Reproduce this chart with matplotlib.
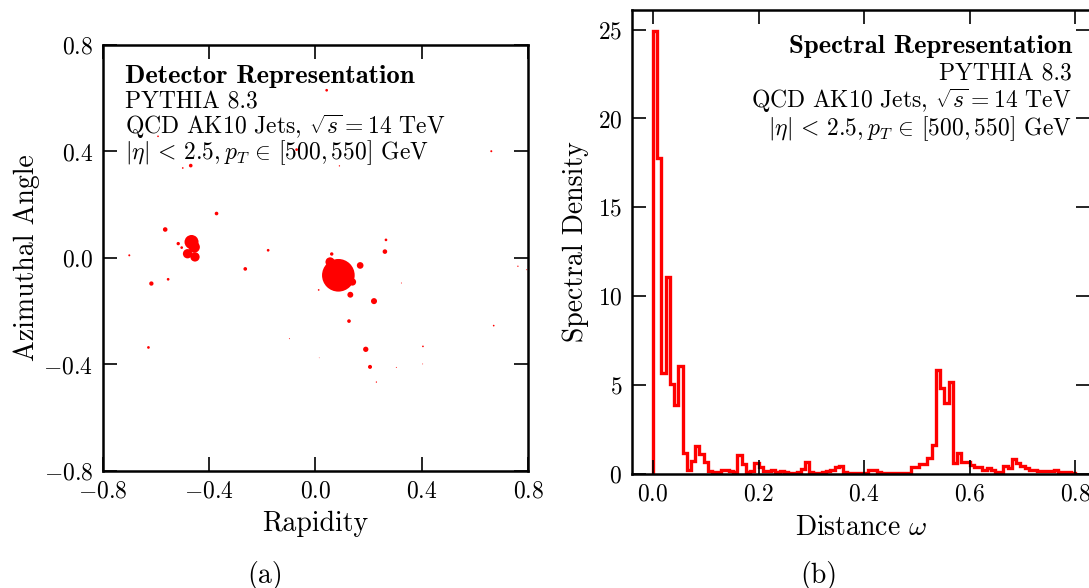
import numpy as np
import matplotlib
matplotlib.use("Agg")
import matplotlib.pyplot as plt

plt.rcParams['font.family'] = 'serif'
plt.rcParams['font.serif'] = ['cmr10']
plt.rcParams['mathtext.fontset'] = 'cm'
plt.rcParams['axes.formatter.use_mathtext'] = True
plt.rcParams['axes.unicode_minus'] = True

# ---- detector representation: constituents (rapidity, phi, pT in GeV)
rapidity = [0.086, 0.055, 0.139, 0.168, 0.131, 0.220, 0.061, 0.261, 0.265, 0.012,
            0.323, 0.126, 0.189, 0.205, 0.229, 0.304, 0.404, 0.403, -0.098, 0.014,
            0.670, 0.761, 0.794, 0.661, 0.042, 0.338, -0.071, 0.090, -0.469, -0.499,
            -0.592, -0.372, -0.565, -0.466, -0.456, -0.481, -0.453, -0.516, -0.503, -0.700,
            -0.617, -0.554, -0.628, -0.264, -0.178]
phi = [-0.065, -0.015, -0.090, -0.028, -0.138, -0.162, 0.015, 0.024, 0.068, -0.120,
       -0.094, -0.237, -0.343, -0.409, -0.466, -0.411, -0.332, -0.398, -0.303, -0.375,
       -0.254, -0.031, -0.044, 0.401, 0.630, 0.658, 0.407, 0.346, 0.347, 0.338,
       0.457, 0.167, 0.107, 0.060, 0.041, 0.016, 0.004, 0.054, 0.039, 0.010,
       -0.096, -0.080, -0.336, -0.041, 0.029]
pt = [263.0, 21.4, 13.3, 11.0, 8.6, 9.0, 2.9, 5.2, 1.8, 0.7,
      0.24, 3.3, 7.0, 4.0, 0.43, 0.24, 0.7, 0.19, 0.24, 0.12,
      0.7, 0.43, 0.24, 1.0, 1.8, 0.24, 1.8, 0.43, 3.3, 0.7,
      0.7, 3.3, 5.2, 48.6, 32.0, 21.4, 21.4, 2.8, 1.8, 1.0,
      4.6, 1.8, 1.8, 3.3, 1.8]

# ---- spectral representation: histogram over distance omega
omega_min, omega_max, n_bins = 0.0, 0.8, 100
spectral_density = [
    24.9, 17.8, 5.7, 11.1, 5.05, 3.9, 6.1, 1.2, 0.25, 0.75,
    1.55, 1.15, 0.7, 0.15, 0.1, 0.12, 0.2, 0.25, 0.15, 0.12,
    1.05, 0.55, 0.12, 0.15, 0.62, 0.4, 0.15, 0.15, 0.2, 0.12,
    0.15, 0.1, 0.05, 0.08, 0.1, 0.3, 0.7, 0.1, 0.05, 0.08,
    0.13, 0.17, 0.22, 0.37, 0.47, 0.13, 0.07, 0.07, 0.07, 0.03,
    0.03, 0.22, 0.22, 0.1, 0.03, 0.03, 0.03, 0.07, 0.07, 0.03,
    0.03, 0.38, 0.4, 0.55, 0.55, 0.9, 1.63, 5.85, 4.85, 4.0,
    5.15, 0.64, 1.16, 0.7, 0.65, 0.5, 0.41, 0.41, 0.2, 0.32,
    0.2, 0.1, 0.1, 0.45, 0.32, 0.83, 0.6, 0.45, 0.36, 0.2,
    0.2, 0.17, 0.17, 0.17, 0.17, 0.23, 0.11, 0.11, 0.11, 0.05]

title_lines = ["PYTHIA 8.3",
               r"QCD AK10 Jets, $\sqrt{s} = 14$ TeV",
               r"$|\eta|\, <\, 2.5, p_T\, \in\, [500, 550]$ GeV"]

fs = 17          # annotation + tick labels
fs_bold = 19.2
fs_label = 20

fig = plt.figure(figsize=(10.89, 5.88), dpi=100)

def style_axes(ax):
    ax.tick_params(direction='in', top=True, right=True, length=10, width=1.2,
                   labelsize=fs, pad=7)
    for sp in ax.spines.values():
        sp.set_linewidth(1.8)

# left panel
ax1 = fig.add_axes([0.0943, 0.199, 0.3908, 0.7245])
ax1.scatter(rapidity, phi, s=np.array(pt) * 2.1, color='red', edgecolors='none')
ax1.set_xlim(-0.8, 0.8)
ax1.set_ylim(-0.8, 0.8)
ax1.set_xticks([-0.8, -0.4, 0.0, 0.4, 0.8])
ax1.set_yticks([-0.8, -0.4, 0.0, 0.4, 0.8])
style_axes(ax1)
ax1.set_xlabel("Rapidity", fontsize=fs_label)
ax1.set_ylabel("Azimuthal Angle", fontsize=fs_label)
ax1.xaxis.set_label_coords(0.5, -0.093)
ax1.yaxis.set_label_coords(-0.148, 0.5)
ax1.text(0.052, 0.911, "Detector Representation", transform=ax1.transAxes,
         fontsize=fs_bold, family='cmb10', va='baseline', ha='left')
for i, line in enumerate(title_lines):
    ax1.text(0.052, 0.850 - i * 0.0587, line, transform=ax1.transAxes,
             fontsize=fs, va='baseline', ha='left')

# right panel
ax2 = fig.add_axes([0.5803, 0.1939, 0.4206, 0.789])
edges = np.linspace(omega_min, omega_max, n_bins + 1)
ax2.stairs(spectral_density, edges, color='red', linewidth=2.4, baseline=0)
ax2.set_xlim(-0.04, 0.828)
ax2.set_ylim(0, 26.1)
ax2.set_xticks([0.0, 0.2, 0.4, 0.6, 0.8])
ax2.set_yticks([0, 5, 10, 15, 20, 25])
style_axes(ax2)
ax2.set_xlabel(r"Distance $\omega$", fontsize=fs_label)
ax2.set_ylabel("Spectral Density", fontsize=fs_label)
ax2.xaxis.set_label_coords(0.5, -0.087)
ax2.yaxis.set_label_coords(-0.094, 0.5)
ax2.text(0.960, 0.9067, "Spectral Representation", transform=ax2.transAxes,
         fontsize=fs_bold, family='cmb10', va='baseline', ha='right')
for i, line in enumerate(title_lines):
    ax2.text(0.960, 0.8476 - i * 0.0585, line, transform=ax2.transAxes,
             fontsize=fs, va='baseline', ha='right')

fig.text(265 / 1089, 1 - 575 / 588, "(a)", fontsize=fs_label, ha='center', va='center')
fig.text(819 / 1089, 1 - 575 / 588, "(b)", fontsize=fs_label, ha='center', va='center')

fig.savefig("out.png", dpi=100)
